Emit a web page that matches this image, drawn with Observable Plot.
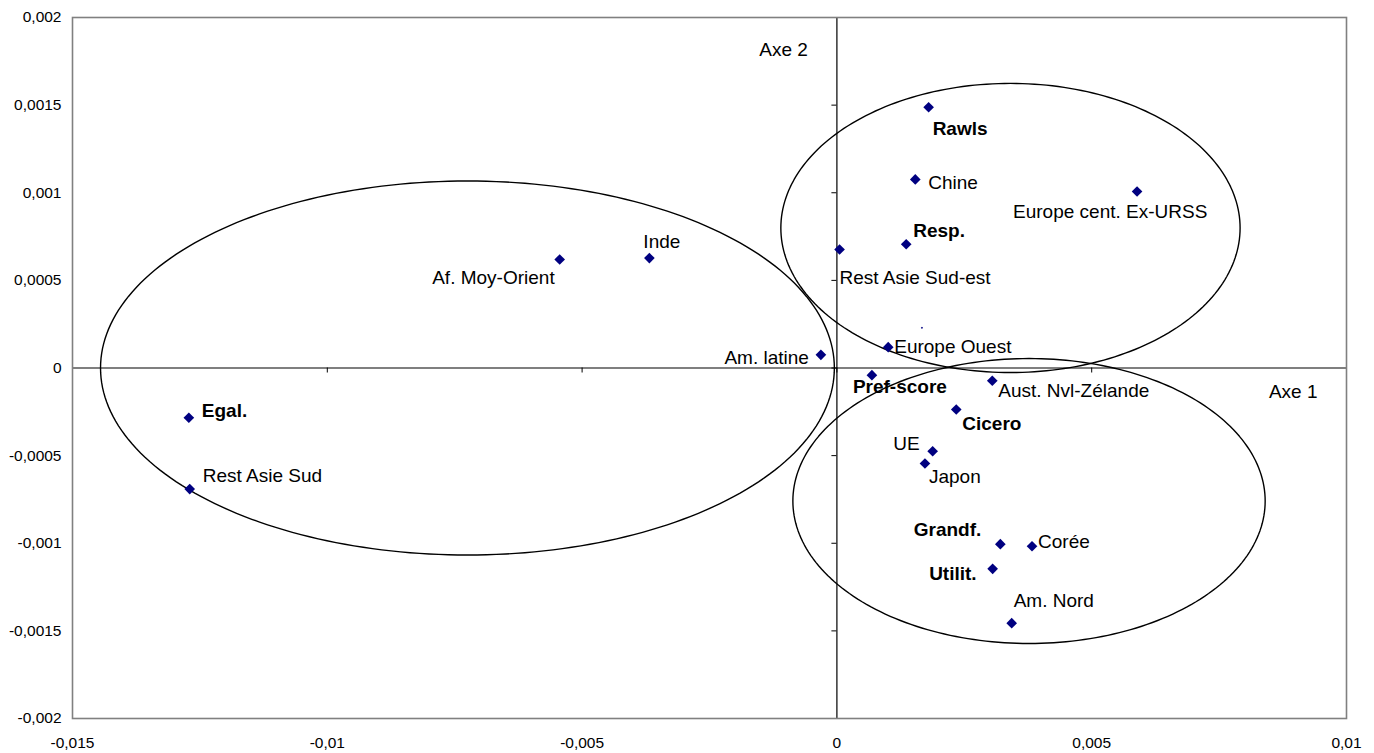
<!DOCTYPE html>
<html>
<head>
<meta charset="utf-8">
<script src="https://cdn.jsdelivr.net/npm/d3@7"></script>
<script src="https://cdn.jsdelivr.net/npm/@observablehq/plot@0.6"></script>
<style>
  html, body { margin: 0; padding: 0; background: #fff; }
  #chart svg { display: block; }
</style>
</head>
<body>
<div id="chart"></div>
<script>
// ---- Data ----
const countries = ["Rest Asie Sud", "Af. Moy-Orient", "Inde", "Am. latine", "Rest Asie Sud-est", "Chine",
  "Europe cent. Ex-URSS", "Europe Ouest", "Aust. Nvl-Zélande", "UE", "Japon", "Corée", "Am. Nord"];
const countryAxe1 = [-0.01270, -0.00544, -0.00368, -0.000314, 0.000052, 0.001538,
  0.00589, 0.001007, 0.003049, 0.001879, 0.001728, 0.003829, 0.00343];
const countryAxe2 = [-0.000691, 0.000619, 0.000627, 0.0000753, 0.000676, 0.001076,
  0.001007, 0.000119, -0.000073, -0.000475, -0.000545, -0.001017, -0.001456];

const criteria = ["Egal.", "Rawls", "Resp.", "Pref-score", "Cicero", "Grandf.", "Utilit."];
const criteriaAxe1 = [-0.012717, 0.0018, 0.00136, 0.000687, 0.002342, 0.003207, 0.003056];
const criteriaAxe2 = [-0.000284, 0.001488, 0.000706, -0.000041, -0.000237, -0.001005, -0.001146];

// unlabelled tiny marker
const strayAxe1 = [0.001669];
const strayAxe2 = [0.000229];

// groupings (ellipses): centre and radii in axis units
const groups = ["left", "upper right", "lower right"];
const groupCx = [-0.00725, 0.003406, 0.00377];
const groupCy = [0.0, 0.000799, -0.000759];
const groupRx = [0.0072, 0.004506, 0.004634];
const groupRy = [0.001067, 0.000825, 0.000813];

const xTicks = [-0.015, -0.01, -0.005, 0, 0.005, 0.01];
const yTicks = [-0.002, -0.0015, -0.001, -0.0005, 0, 0.0005, 0.001, 0.0015, 0.002];

// ---- Label layout (pixel offsets, anchor) ----
const labelLayout = {
  "Rawls": [4, 22, "start"],
  "Chine": [13, 3, "start"],
  "Europe cent. Ex-URSS": [-124, 20, "start"],
  "Resp.": [7, -13, "start"],
  "Rest Asie Sud-est": [0, 28, "start"],
  "Europe Ouest": [6, 0, "start"],
  "Am. latine": [-12, 3, "end"],
  "Inde": [-6, -16, "start"],
  "Af. Moy-Orient": [-5, 18, "end"],
  "Egal.": [13, -7, "start"],
  "Rest Asie Sud": [13, -13, "start"],
  "Pref-score": [-19, 12, "start"],
  "Aust. Nvl-Zélande": [6, 10, "start"],
  "Cicero": [6, 14, "start"],
  "UE": [-13, -7, "end"],
  "Japon": [4, 13, "start"],
  "Grandf.": [-19, -14, "end"],
  "Corée": [6, -4, "start"],
  "Utilit.": [-16, 5, "end"],
  "Am. Nord": [2, -22, "start"]
};

// ---- Build tables ----
const countryRows = countries.map((name, i) => ({name, a1: countryAxe1[i], a2: countryAxe2[i], bold: false}));
const criteriaRows = criteria.map((name, i) => ({name, a1: criteriaAxe1[i], a2: criteriaAxe2[i], bold: true}));
const allRows = countryRows.concat(criteriaRows);
const strayRows = strayAxe1.map((a1, i) => ({a1, a2: strayAxe2[i]}));

const ellipseRows = [];
groups.forEach((g, gi) => {
  for (let k = 0; k <= 240; k++) {
    const t = (k / 240) * 2 * Math.PI;
    ellipseRows.push({g, a1: groupCx[gi] + groupRx[gi] * Math.cos(t), a2: groupCy[gi] + groupRy[gi] * Math.sin(t)});
  }
});

const fmt = d => d === 0 ? "0" : String(d).replace(".", ",");
const FONT = "'Liberation Sans', Arial, sans-serif";
const NAVY = "#000080";

const labelMarks = allRows.map(r => {
  const [dx, dy, anchor] = labelLayout[r.name];
  return Plot.text([r], {
    x: "a1", y: "a2", text: "name", dx, dy, textAnchor: anchor,
    fontSize: 19, fontWeight: r.bold ? "bold" : "normal", fill: "#000"
  });
});

const chart = Plot.plot({
  width: 1374,
  height: 753,
  marginLeft: 72,
  marginRight: 28,
  marginTop: 17,
  marginBottom: 35,
  style: {fontFamily: FONT, fontSize: "15.5px", color: "#000", background: "#fff"},
  x: {domain: [-0.015, 0.01]},
  y: {domain: [-0.002, 0.002]},
  marks: [
    Plot.axisX(xTicks, {tickSize: 0, tickPadding: 18, tickFormat: fmt, label: null, fontSize: 15.5}),
    Plot.axisY(yTicks, {tickSize: 0, tickPadding: 11, tickFormat: fmt, label: null, fontSize: 15.5}),
    Plot.ruleX([0], {stroke: "#000", strokeWidth: 1.2}),
    Plot.ruleY([0], {stroke: "#000", strokeWidth: 1.2}),
    Plot.ruleY(yTicks, {y: d => d, x1: () => 0, x2: () => 0, insetLeft: -5, stroke: "#000"}),
    Plot.ruleX(xTicks, {x: d => d, y1: () => 0, y2: () => 0, insetBottom: -5, stroke: "#000"}),
    Plot.line(ellipseRows, {x: "a1", y: "a2", z: "g", stroke: "#000", strokeWidth: 1.4, curve: "linear-closed"}),
    Plot.dot(allRows, {x: "a1", y: "a2", symbol: "diamond2", r: 4.8, fill: NAVY, stroke: "none"}),
    Plot.dot(strayRows, {x: "a1", y: "a2", symbol: "diamond2", r: 1, fill: NAVY, stroke: "none"}),
    ...labelMarks,
    Plot.text(["Axe 1"], {frameAnchor: "right", y: () => 0, dx: -29, dy: 23.5, textAnchor: "end", fontSize: 19, fill: "#000"}),
    Plot.text(["Axe 2"], {frameAnchor: "top", x: () => 0, dx: -29, dy: 24.7, textAnchor: "end", fontSize: 19, fill: "#000"}),
    Plot.frame({stroke: "#808080", strokeWidth: 1.6})
  ]
});

document.getElementById("chart").appendChild(chart);
</script>
</body>
</html>
